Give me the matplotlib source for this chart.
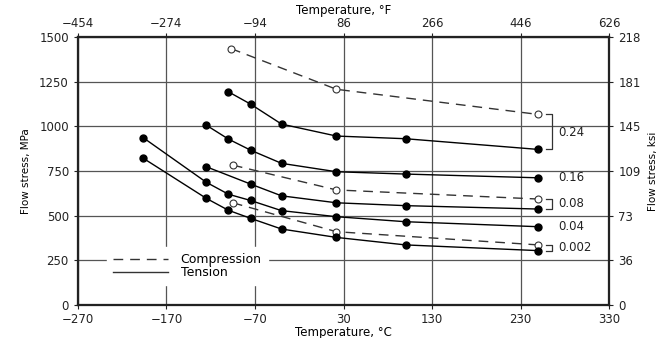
import matplotlib.pyplot as plt
from matplotlib.lines import Line2D

plt.rcParams['font.family'] = ['DejaVu Sans']

# tension curves (temperature in C, flow stress in MPa)
t024_T = [-100, -75, -40, 22, 100, 250]
t024_S = [1194, 1125, 1013, 946, 931, 871]
t016_T = [-125, -100, -75, -40, 22, 100, 250]
t016_S = [1007, 929, 867, 793, 746, 733, 712]
t008_T = [-125, -75, -40, 22, 100, 250]
t008_S = [774, 677, 611, 572, 556, 537]
t004_T = [-196, -125, -100, -75, -40, 22, 100, 250]
t004_S = [936, 687, 620, 585, 528, 494, 466, 438]
t0002_T = [-196, -125, -100, -75, -40, 22, 100, 250]
t0002_S = [821, 597, 530, 485, 425, 378, 336, 304]

# compression curves
c024_T = [-97, 22, 250]
c024_S = [1436, 1208, 1067]
c008_T = [-95, 22, 250]
c008_S = [783, 644, 593]
c0002_T = [-95, 22, 250]
c0002_S = [572, 410, 336]

strain_labels = ["0.24", "0.16", "0.08", "0.04", "0.002"]
label_S = [966, 712, 566, 438, 322]

xticks_C = [-270, -170, -70, 30, 130, 230, 330]
xticks_F = ["\u2212454", "\u2212274", "\u221294", "86", "266", "446", "626"]
yticks_MPa = [0, 250, 500, 750, 1000, 1250, 1500]
yticks_ksi = ["0", "36", "73", "109", "145", "181", "218"]

fig = plt.figure(figsize=(6.6, 3.38), dpi=100)
ax = fig.add_axes([0.118, 0.098, 0.805, 0.792])

fs = 8.5
ax.set_xlim(-270, 330)
ax.set_ylim(0, 1500)
ax.set_xticks(xticks_C)
ax.set_yticks(yticks_MPa)
ax.grid(True, color='#555555', linewidth=0.9)
ax.tick_params(labelsize=fs, length=3, width=0.8, colors='#222222')
ax.tick_params(axis='x', pad=3)
for s in ax.spines.values():
    s.set_linewidth(1.5)
    s.set_color('#222222')

for T, S in [(t024_T, t024_S), (t016_T, t016_S), (t008_T, t008_S),
             (t004_T, t004_S), (t0002_T, t0002_S)]:
    ax.plot(T, S, color='black', linewidth=1.0, marker='o', markersize=5,
            markerfacecolor='black', zorder=4)

for T, S in [(c024_T, c024_S), (c008_T, c008_S), (c0002_T, c0002_S)]:
    ax.plot(T, S, color='#333333', linewidth=1.0, dashes=(7, 5), marker='o',
            markersize=5, markerfacecolor='white', markeredgecolor='#333333',
            markeredgewidth=0.8, zorder=3)

# brackets joining compression and tension end values
for c_S, t_S in [(c024_S, t024_S), (c008_S, t008_S), (c0002_S, t0002_S)]:
    ax.plot([259, 265, 265, 259], [c_S[-1], c_S[-1], t_S[-1], t_S[-1]],
            color='#333333', linewidth=0.9, zorder=3)

for lab, y in zip(strain_labels, label_S):
    ax.text(273, y, lab, fontsize=fs, va='center', ha='left', color='#222222')

handles = [Line2D([], [], color='#333333', linewidth=1.0, dashes=(7, 5)),
           Line2D([], [], color='#333333', linewidth=1.0)]
leg = ax.legend(handles, ["Compression", "Tension"], loc='upper left',
                bbox_to_anchor=(0.043, 0.24), fontsize=fs + 0.5, handlelength=4.4,
                labelspacing=0.0, borderpad=0.5, handletextpad=1.0,
                frameon=True, fancybox=False, framealpha=1)
leg.get_frame().set_edgecolor('white')
leg.get_frame().set_facecolor('white')

ax.set_xlabel("Temperature, \u00b0C", fontsize=fs, labelpad=0)
ax.set_ylabel("Flow stress, MPa", fontsize=7.5, labelpad=6)

axt = ax.twiny()
axt.set_xlim(ax.get_xlim())
axt.set_xticks(xticks_C)
axt.set_xticklabels(xticks_F)
axt.tick_params(labelsize=fs, length=3, width=0.8, pad=2.5, colors='#222222')
axt.set_xlabel("Temperature, \u00b0F", fontsize=fs, labelpad=2)

axr = ax.twinx()
axr.set_ylim(ax.get_ylim())
axr.set_yticks(yticks_MPa)
axr.set_yticklabels(yticks_ksi)
axr.tick_params(labelsize=fs, length=3, width=0.8, colors='#222222')
axr.set_ylabel("Flow stress, ksi", fontsize=7.5, labelpad=5)
for a in (axt, axr):
    for s in a.spines.values():
        s.set_linewidth(1.5)
        s.set_color('#222222')

fig.savefig("out.png", dpi=100)
